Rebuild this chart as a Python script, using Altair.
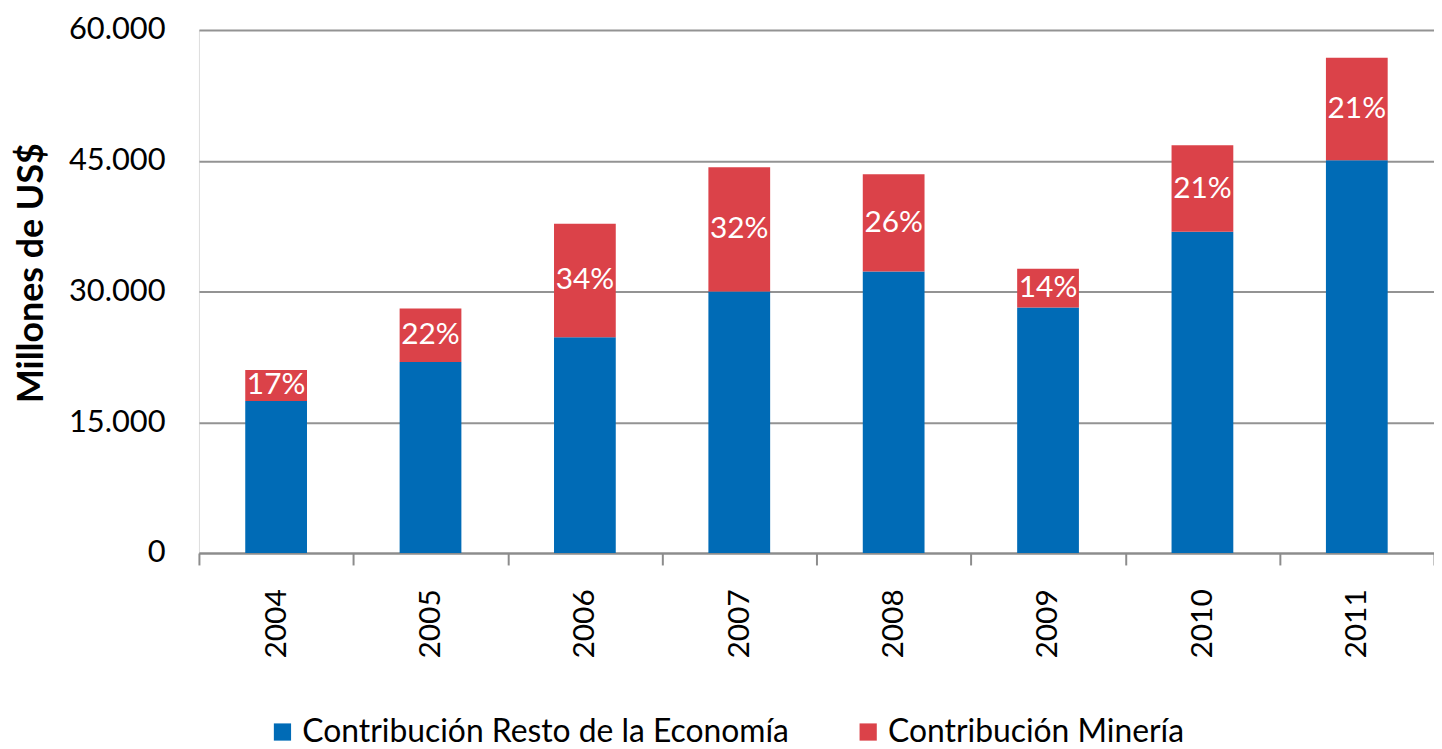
import altair as alt
import pandas as pd

years = ["2004", "2005", "2006", "2007", "2008", "2009", "2010", "2011"]
resto = [17450, 21900, 24750, 30000, 32280, 28170, 36840, 45060]
mineria = [3540, 6160, 13010, 14260, 11180, 4450, 9930, 11740]
pct_labels = ["17%", "22%", "34%", "32%", "26%", "14%", "21%", "21%"]
series = ["Contribución Resto de la Economía", "Contribución Minería"]
colors = ["#006BB6", "#DB4249"]

rows = []
for i, y in enumerate(years):
    rows.append({"year": y, "serie": series[0], "valor": resto[i], "orden": 0})
    rows.append({"year": y, "serie": series[1], "valor": mineria[i], "orden": 1})
df = pd.DataFrame(rows)

lab = pd.DataFrame({"year": years, "base": resto, "min": mineria, "pct": pct_labels})

FONT = "Lato"

xenc = alt.X(
    "year:N",
    sort=years,
    scale=alt.Scale(paddingInner=0, paddingOuter=0),
    axis=alt.Axis(
        title=None,
        labelAngle=-90,
        labelFontSize=30,
        labelFont=FONT,
        labelColor="#000000",
        labelPadding=24,
        tickSize=12,
        tickWidth=2,
        tickColor="#8c8c8c",
        tickBand="extent",
        domainColor="#8c8c8c",
        domainWidth=2,
        grid=False,
    ),
)

bars = alt.Chart(df).mark_bar(width={"band": 0.4}).encode(
    x=xenc,
    y=alt.Y(
        "valor:Q",
        stack="zero",
        scale=alt.Scale(domain=[0, 60000]),
        axis=alt.Axis(
            title="Millones de US$",
            titleFont=FONT,
            titleFontSize=36,
            titleFontWeight="bold",
            titleColor="#000000",
            titleX=-168,
            titleY=244,
            titleAlign="center",
            titleBaseline="middle",
            titleAngle=270,
            values=[0, 15000, 30000, 45000, 60000],
            labelExpr="replace(format(datum.value, ',d'), ',', '.')",
            labelFontSize=31,
            labelFont=FONT,
            labelColor="#000000",
            labelPadding=34,
            ticks=False,
            tickSize=0,
            domain=False,
            grid=True,
            gridColor="#939393",
            gridWidth=2,
        ),
    ),
    color=alt.Color(
        "serie:N",
        scale=alt.Scale(domain=series, range=colors),
        legend=alt.Legend(
            title=None,
            orient="none",
            legendX=68,
            legendY=690,
            direction="horizontal",
            symbolType="square",
            symbolSize=300,
            symbolStrokeWidth=0,
            labelFontSize=32,
            labelFont=FONT,
            labelColor="#000000",
            labelOffset=4,
            labelLimit=0,
            columnPadding=63,
            padding=0,
        ),
    ),
    order=alt.Order("orden:Q"),
)

texts = alt.Chart(lab).transform_calculate(
    mid="datum.base + datum.min / 2"
).mark_text(
    color="white", fontSize=30, font=FONT, baseline="middle", align="center"
).encode(
    x=alt.X("year:N", sort=years),
    y=alt.Y("mid:Q"),
    text="pct:N",
)

chart = alt.layer(bars, texts).properties(
    width=1242,
    height=526,
    autosize=alt.AutoSizeParams(type="none"),
    padding={"left": 192, "top": 20, "right": 0, "bottom": 195},
).configure_view(stroke=None).configure(background="white")

chart.save("out.html", embed_options={"renderer": "svg", "actions": False})
